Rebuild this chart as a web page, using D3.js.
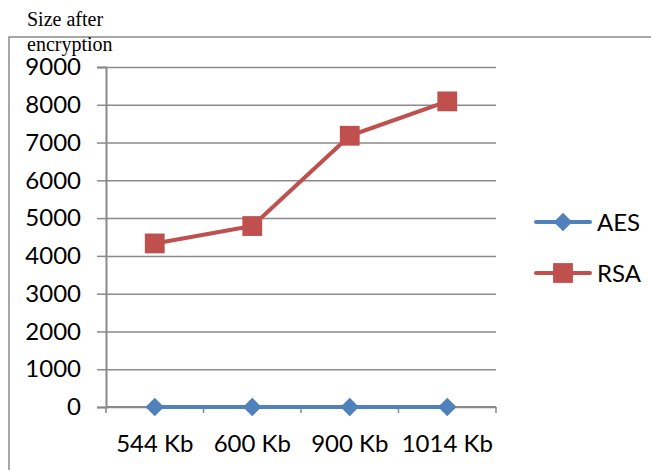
<!DOCTYPE html>
<html>
<head>
<meta charset="utf-8">
<script src="https://cdn.jsdelivr.net/npm/d3@7"></script>
<style>
  html, body { margin: 0; padding: 0; background: #fff; }
  svg { display: block; }
  .tick text { font-family: Lato, "Open Sans", sans-serif; }
</style>
</head>
<body>
<script>
// File sizes before encryption and the resulting sizes per algorithm
const categories = ["544 Kb", "600 Kb", "900 Kb", "1014 Kb"];
const aesValues = [0, 0, 0, 0];
const rsaValues = [4330, 4790, 7180, 8090];
const yTicks = [0, 1000, 2000, 3000, 4000, 5000, 6000, 7000, 8000, 9000];
const seriesNames = ["AES", "RSA"];

const W = 651, H = 470;
const plot = { left: 106, right: 496, top: 67, bottom: 407 };
const AES_COLOR = "#4F81BD", RSA_COLOR = "#C0504D", GRID = "#8a8a8a";

const svg = d3.select("body").append("svg").attr("width", W).attr("height", H);

// outer frame (top and left edges)
svg.append("path")
  .attr("d", `M9,${H} V37 H${W}`)
  .attr("fill", "none").attr("stroke", GRID).attr("stroke-width", 1.5);

const x = d3.scaleBand().domain(categories).range([plot.left, plot.right]).padding(0);
const y = d3.scaleLinear().domain([0, 9000]).range([plot.bottom, plot.top]);

// horizontal gridlines with left tick stubs
const yAxis = d3.axisLeft(y).tickValues(yTicks).tickSize(9).tickPadding(16).tickFormat(d3.format("d"));
const yg = svg.append("g").attr("transform", `translate(${plot.left},0)`).call(yAxis);
yg.select(".domain").attr("stroke", GRID).attr("stroke-width", 2);
yg.selectAll(".tick line").attr("stroke", GRID).attr("stroke-width", 1.5);
yg.selectAll(".tick text").attr("font-size", 24).attr("fill", "#000");
yg.selectAll(".tick").append("line")
  .attr("x1", 0).attr("x2", plot.right - plot.left)
  .attr("stroke", GRID).attr("stroke-width", 1.5);

// category axis with boundary ticks
const xg = svg.append("g").attr("transform", `translate(0,${plot.bottom})`);
xg.append("line").attr("x1", plot.left).attr("x2", plot.right)
  .attr("stroke", GRID).attr("stroke-width", 2);
const bounds = categories.map(c => x(c)).concat([plot.right]);
xg.selectAll("line.bt").data(bounds).enter().append("line").attr("class", "bt")
  .attr("x1", d => d).attr("x2", d => d).attr("y1", 0).attr("y2", 6)
  .attr("stroke", GRID).attr("stroke-width", 1.5);
xg.selectAll("text").data(categories).enter().append("text")
  .attr("x", d => x(d) + x.bandwidth() / 2).attr("y", 45)
  .attr("text-anchor", "middle")
  .attr("font-family", "Lato, 'Open Sans', sans-serif").attr("font-size", 24)
  .text(d => d);

const cx = d => x(d) + x.bandwidth() / 2;
const line = d3.line().x(d => cx(d.c)).y(d => y(d.v));

function series(vals, color, shape, size) {
  const data = categories.map((c, i) => ({ c, v: vals[i] }));
  svg.append("path").datum(data).attr("d", line)
    .attr("fill", "none").attr("stroke", color).attr("stroke-width", 4)
    .attr("stroke-linejoin", "round");
  svg.selectAll(null).data(data).enter().append("path")
    .attr("transform", d => `translate(${cx(d.c)},${y(d.v)})`)
    .attr("d", d3.symbol().type(shape).size(size))
    .attr("fill", color);
}
series(aesValues, AES_COLOR, d3.symbolDiamond2, 220);
series(rsaValues, RSA_COLOR, d3.symbolSquare2, 500);

// legend
const legend = svg.append("g");
[[seriesNames[0], AES_COLOR, d3.symbolDiamond2, 220, 222],
 [seriesNames[1], RSA_COLOR, d3.symbolSquare2, 500, 273]].forEach(([name, color, shape, size, ly]) => {
  legend.append("line").attr("x1", 536).attr("x2", 590).attr("y1", ly).attr("y2", ly)
    .attr("stroke", color).attr("stroke-width", 4).attr("stroke-linecap", "round");
  legend.append("path").attr("transform", `translate(563,${ly})`)
    .attr("d", d3.symbol().type(shape).size(size)).attr("fill", color);
  legend.append("text").attr("x", 597).attr("y", ly + 9)
    .attr("font-family", "Lato, 'Open Sans', sans-serif").attr("font-size", 24)
    .text(name);
});

// axis title
const title = svg.append("text")
  .attr("font-family", "'Liberation Serif', 'Times New Roman', serif").attr("font-size", 20);
title.append("tspan").attr("x", 27).attr("y", 26).text("Size after");
title.append("tspan").attr("x", 27).attr("y", 51).text("encryption");
</script>
</body>
</html>
